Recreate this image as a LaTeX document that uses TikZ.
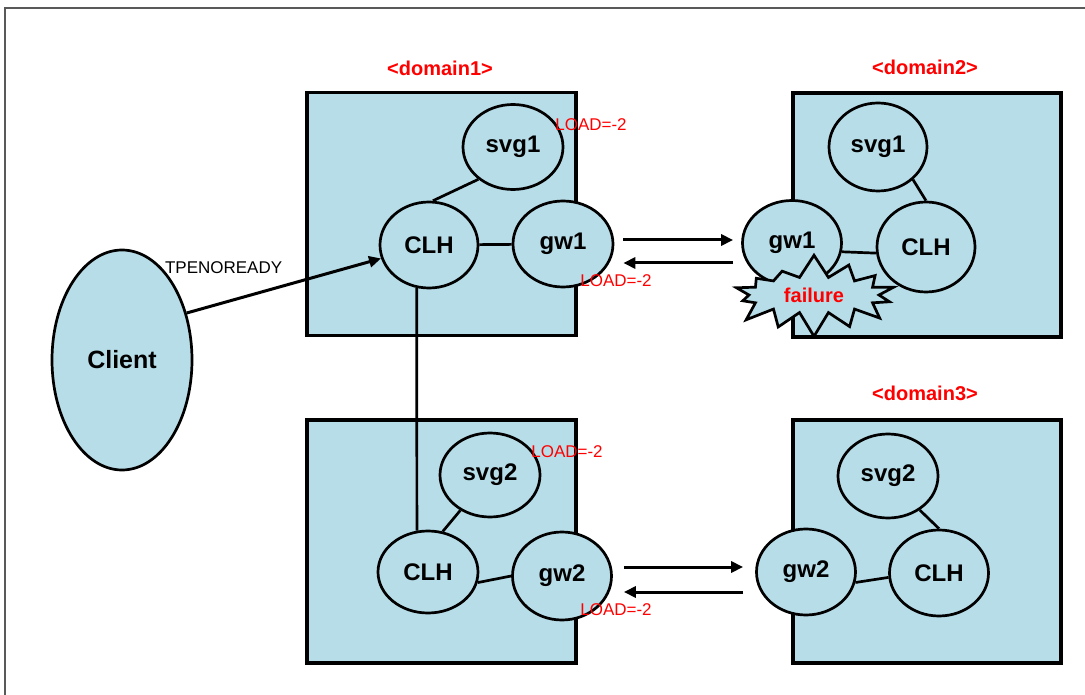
\documentclass[tikz,border=0pt]{standalone}
\usepackage{fontspec}
\setmainfont{Liberation Sans}
\usetikzlibrary{shapes.geometric,shapes.symbols,arrows.meta}
\definecolor{paleblue}{RGB}{183,221,232}

\begin{document}
\begin{tikzpicture}[x=1pt,y=-1pt,
		dom/.style={draw, line width=3.2pt, fill=paleblue, inner sep=0pt, minimum width=269pt, minimum height=243pt},
		proc/.style={draw, ellipse, line width=2.7pt, fill=paleblue, inner sep=0pt, minimum width=99pt, minimum height=85pt, font=\bfseries\fontsize{24}{28}\selectfont},
		dname/.style={text=red, font=\bfseries\fontsize{20}{24}\selectfont},
		load/.style={text=red, inner sep=0pt, font=\fontsize{17}{20}\selectfont},
		link/.style={line width=2.7pt},
		msg/.style={line width=3pt, -{Triangle[length=12pt,width=11pt]}}]
		\useasboundingbox (0,0) rectangle (1085,695);
		\draw[line width=2pt, draw=black!65] (1085,8) -- (5,8) -- (5,695);

		% domains
		\node [dom] (boxA) at (441.5,214) {};
		\node [dom, minimum width=268pt, minimum height=244pt] (boxB) at (927,215) {};
		\node [dom] (boxC) at (441.5,541.5) {};
		\node [dom, minimum width=268pt] (boxD) at (927,541.5) {};
		\node [dname] (nameA) at (440,68) {<domain1>};
		\node [dname] (nameB) at (925,67) {<domain2>};
		\node [dname] (nameD) at (925,393) {<domain3>};

		% processes
		\node [proc, minimum width=140pt, minimum height=220pt, font=\bfseries\fontsize{25}{30}\selectfont] (client) at (122,360) {Client};
		\node [proc, minimum width=100pt, minimum height=85pt] (svgA) at (513,147) {svg1};
		\node [proc, minimum width=98pt, minimum height=86pt] (clhA) at (429,245) {CLH};
		\node [proc, minimum width=100pt, minimum height=86pt] (gwA) at (563,244) {gw1};
		\node [proc, minimum width=98pt, minimum height=88pt] (svgB) at (878,147) {svg1};
		\node [proc] (gwB) at (792,243) {gw1};
		\node [proc, minimum width=98pt, minimum height=90pt] (clhB) at (926,247) {CLH};
		\node [proc, minimum width=100pt, minimum height=84pt] (svgC) at (490,475) {svg2};
		\node [proc, minimum width=100pt, minimum height=82pt] (clhC) at (428,572) {CLH};
		\node [proc, minimum width=99pt, minimum height=88pt] (gwC) at (562,576) {gw2};
		\node [proc, minimum width=100pt, minimum height=84pt] (svgD) at (888,476) {svg2};
		\node [proc, minimum height=86pt] (gwD) at (806,572) {gw2};
		\node [proc, minimum height=86pt] (clhD) at (939,573) {CLH};

		\node [starburst, draw, line width=2.7pt, fill=paleblue, minimum width=178pt, minimum height=84pt,
			starburst points=14, starburst point height=24pt, random starburst=7,
			text=red, font=\bfseries\fontsize{20}{24}\selectfont] (fail) at (814,295) {failure};

		% links
		\path[link]
			(svgA.223) edge (clhA.85)
			(clhA) edge (gwA)
			(clhA.254) edge (clhC.105)
			(svgB.317) edge (clhB.north)
			(gwB.-10) edge (clhB.187)
			(svgC.230) edge (clhC.70)
			(clhC.-12) edge (gwC.west)
			(svgD.313) edge (clhD.north)
			(gwD.-12) edge (clhD.185);

		% messages
		\draw[msg] (client.36) -- (clhA) node [pos=.19, above=27pt, inner sep=0pt, font=\fontsize{17}{20}\selectfont] (tpe) {TPENOREADY};
		\draw[msg, shorten <=9pt, shorten >=8pt] ([yshift=4pt]gwA.east) -- ([yshift=3pt]gwB.west);
		\draw[msg, shorten <=8pt, shorten >=9pt] ([yshift=-20pt]gwB.west) -- ([yshift=-19pt]gwA.east);
		\draw[msg, shorten <=11pt, shorten >=12pt] ([yshift=9pt]gwC.east) -- ([yshift=5pt]gwD.west);
		\draw[msg, shorten <=12pt, shorten >=11pt] ([yshift=-20pt]gwD.west) -- ([yshift=-16pt]gwC.east);

		\node [load] (loadA) at (591,125) {LOAD=-2};
		\node [load] (loadB) at (616,281) {LOAD=-2};
		\node [load] (loadC) at (567,452) {LOAD=-2};
		\node [load] (loadD) at (616,610) {LOAD=-2};
	\end{tikzpicture}
\end{document}
